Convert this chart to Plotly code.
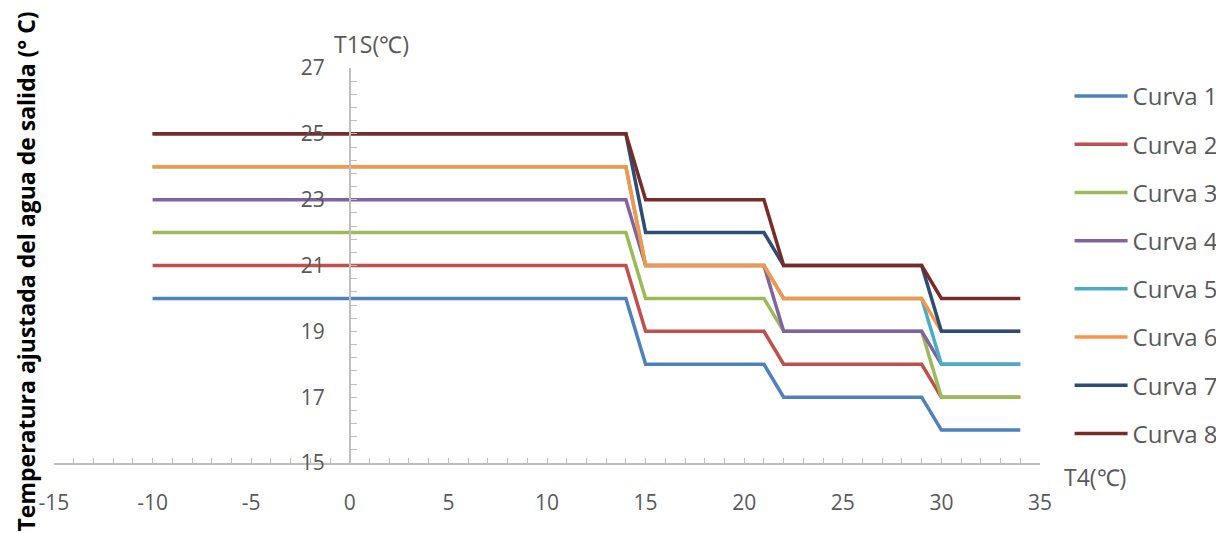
import plotly.graph_objects as go

x_t4 = [-10, 14, 15, 21, 22, 29, 30, 34]
curva_1 = [20, 20, 18, 18, 17, 17, 16, 16]
curva_2 = [21, 21, 19, 19, 18, 18, 17, 17]
curva_3 = [22, 22, 20, 20, 19, 19, 17, 17]
curva_4 = [23, 23, 21, 21, 19, 19, 18, 18]
curva_5 = [24, 24, 21, 21, 20, 20, 18, 18]
curva_6 = [24, 24, 21, 21, 20, 20, 19, 19]
curva_7 = [25, 25, 22, 22, 21, 21, 19, 19]
curva_8 = [25, 25, 23, 23, 21, 21, 20, 20]

names = ["Curva 1", "Curva 2", "Curva 3", "Curva 4", "Curva 5", "Curva 6", "Curva 7", "Curva 8"]
series = [curva_1, curva_2, curva_3, curva_4, curva_5, curva_6, curva_7, curva_8]
colors = ["#4F81BD", "#C0504D", "#9BBB59", "#8064A2", "#4BACC6", "#F79646", "#2C4D75", "#772C2A"]

x_ticks = [-15, -10, -5, 0, 5, 10, 15, 20, 25, 30, 35]
x_labels = ["-15", "-10", "-5", "0", "5", "10", "15", "20", "25", "30", "35"]
y_ticks = [15, 17, 19, 21, 23, 25, 27]
y_labels = ["15", "17", "19", "21", "23", "25", "27"]

FONT = "Open Sans"
GRAY = "#595959"
AXIS = "#BFBFBF"

fig = go.Figure()
for i, (n, s, c) in enumerate(zip(names, series, colors)):
    fig.add_trace(go.Scatter(x=x_t4, y=s, name=n, mode="lines",
                             line=dict(color=c, width=3.5),
                             legendgroup=f"g{i}"))

# page body has an 8px offset; margins compensate so the plot lands where the reference has it
W, H = 1224, 533
L, T = 46, 60
PW, PH = 986, 395
R = W - L - PW
B = H - T - PH

fig.update_layout(
    width=W, height=H,
    margin=dict(l=L, r=R, t=T, b=B, autoexpand=False),
    plot_bgcolor="white", paper_bgcolor="white",
    font=dict(family=FONT, color=GRAY, size=18),
    showlegend=True,
    legend=dict(x=1.030, y=0.985, xanchor="left", yanchor="top",
                font=dict(size=24, color=GRAY, family=FONT),
                tracegroupgap=14, itemwidth=53,
                bgcolor="rgba(0,0,0,0)"),
    xaxis=dict(range=[-15, 35], tickvals=x_ticks, ticktext=x_labels, showgrid=False, zeroline=False,
               showline=True, linecolor=AXIS, linewidth=1.5, automargin=False,
               ticks="inside", ticklen=5, tickcolor=AXIS, tickwidth=1.2,
               minor=dict(dtick=1, tick0=0, ticks="inside", ticklen=5, tickcolor=AXIS, tickwidth=1.2),
               ticklabelstandoff=20,
               tickfont=dict(size=21, color=GRAY, family=FONT)),
    yaxis=dict(range=[15, 27], tickvals=y_ticks, ticktext=y_labels, showgrid=False, zeroline=False,
               showline=True, linecolor=AXIS, linewidth=1.5, automargin=False,
               anchor="free", position=0.3,
               ticks="inside", ticklen=6, tickcolor=AXIS, tickwidth=1.2,
               minor=dict(dtick=0.4, tick0=15, ticks="inside", ticklen=6, tickcolor=AXIS, tickwidth=1.2),
               ticklabelstandoff=20,
               tickfont=dict(size=21, color=GRAY, family=FONT)),
)

fig.add_annotation(x=0, y=27, xref="x", yref="y", text="T1S(℃)", showarrow=False,
                   xanchor="left", yanchor="bottom", yshift=6, xshift=-18,
                   font=dict(size=23, color=GRAY, family=FONT))
fig.add_annotation(x=35, y=15, xref="x", yref="y", text="T4(℃)", showarrow=False,
                   xanchor="left", yanchor="middle", xshift=22, yshift=-14,
                   font=dict(size=23, color=GRAY, family=FONT))
fig.add_annotation(x=0, y=0.5, xref="paper", yref="paper",
                   text="<b>Temperatura ajustada del agua de salida (° C)</b>",
                   showarrow=False, textangle=-90, xanchor="center", yanchor="middle",
                   xshift=-29, yshift=-6,
                   font=dict(size=23, color="#000000", family=FONT))

fig.write_html("out.html")
